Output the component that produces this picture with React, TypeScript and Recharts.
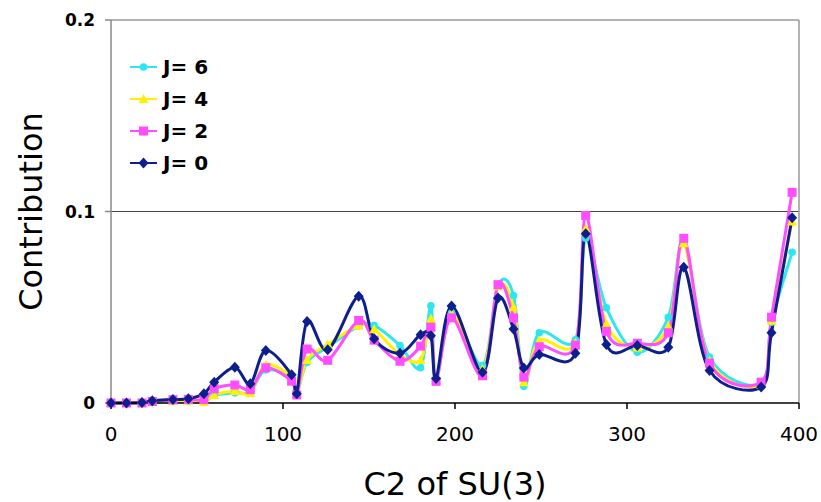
import {
  Legend,
  Line,
  LineChart,
  ReferenceLine,
  XAxis,
  YAxis,
} from "recharts";

// C2 eigenvalues of the SU(3) irreps that appear in the plot
const c2 = [
  0, 9, 18, 24, 36, 45, 54, 60, 72, 81, 90, 105, 108, 114, 126, 144, 153, 168,
  180, 186, 189, 198, 216, 225, 234, 240, 249, 270, 276, 288, 306, 324, 333,
  348, 378, 384, 396,
];

const j0 = [
  0, 0, 0.0002, 0.0012, 0.0018, 0.0022, 0.0048, 0.0109, 0.0187, 0.01, 0.0274,
  0.0147, 0.0048, 0.0426, 0.0278, 0.0558, 0.0336, 0.026, 0.0357, 0.0351,
  0.0128, 0.0507, 0.016, 0.0548, 0.0386, 0.0183, 0.0253, 0.026, 0.0884, 0.0305,
  0.03, 0.0291, 0.0709, 0.017, 0.0083, 0.0367, 0.0967,
];

const j2 = [
  0, 0, 0, 0.0008, 0.0017, 0.0019, 0.0018, 0.0074, 0.0094, 0.007, 0.0184,
  0.0114, 0.0042, 0.0282, 0.0223, 0.0431, 0.0328, 0.0218, 0.0297, 0.0396,
  0.0113, 0.0445, 0.0142, 0.0618, 0.0445, 0.0135, 0.0294, 0.0302, 0.0979,
  0.0374, 0.0312, 0.0367, 0.086, 0.0208, 0.0109, 0.0448, 0.11,
];

const j4 = [
  0, 0, 0, 0.0004, 0.001, 0.0012, 0.0005, 0.0042, 0.0063, 0.0052, 0.02, 0.0135,
  0.005, 0.0225, 0.0305, 0.0405, 0.0385, 0.0253, 0.0225, 0.044, 0.012, 0.0466,
  0.0178, 0.061, 0.05, 0.0109, 0.0326, 0.0315, 0.091, 0.0413, 0.029, 0.04,
  0.0834, 0.022, 0.0095, 0.043, 0.0948,
];

const j6 = [
  0, 0, 0, 0.0003, 0.0008, 0.0008, 0.0003, 0.004, 0.0053, 0.006, 0.0173, 0.013,
  0.005, 0.0213, 0.0292, 0.0402, 0.0405, 0.03, 0.0184, 0.0508, 0.012, 0.047,
  0.0196, 0.0614, 0.0561, 0.0087, 0.0367, 0.033, 0.086, 0.0497, 0.0265, 0.0448,
  0.084, 0.024, 0.01, 0.0422, 0.0787,
];

const xTicks = [0, 100, 200, 300, 400];
const yTicks = [0, 0.1, 0.2];

const FONT = "'DejaVu Sans', Verdana, sans-serif";

type Marker = "circle" | "triangle" | "square" | "diamond";

const SERIES: { key: string; name: string; color: string; marker: Marker }[] = [
  { key: "j6", name: "J= 6", color: "#2ee6f0", marker: "circle" },
  { key: "j4", name: "J= 4", color: "#fff200", marker: "triangle" },
  { key: "j2", name: "J= 2", color: "#ff4dff", marker: "square" },
  { key: "j0", name: "J= 0", color: "#0c1f8c", marker: "diamond" },
];

const data = c2.map((x, i) => ({ c2: x, j0: j0[i], j2: j2[i], j4: j4[i], j6: j6[i] }));

// Excel-style smoothed line: Catmull-Rom through every point
function excelSmooth(context: any) {
  let pts: [number, number][] = [];
  return {
    areaStart() {},
    areaEnd() {},
    lineStart() {
      pts = [];
    },
    point(x: number, y: number) {
      pts.push([+x, +y]);
    },
    lineEnd() {
      const n = pts.length;
      if (!n) return;
      context.moveTo(pts[0][0], pts[0][1]);
      for (let i = 0; i < n - 1; i++) {
        const p0 = pts[i - 1] || pts[i];
        const p1 = pts[i];
        const p2 = pts[i + 1];
        const p3 = pts[i + 2] || p2;
        context.bezierCurveTo(
          p1[0] + (p2[0] - p0[0]) / 6,
          p1[1] + (p2[1] - p0[1]) / 6,
          p2[0] - (p3[0] - p1[0]) / 6,
          p2[1] - (p3[1] - p1[1]) / 6,
          p2[0],
          p2[1],
        );
      }
    },
  };
}

function markerShape(marker: Marker, cx: number, cy: number, color: string, key?: any) {
  if (marker === "circle") return <circle key={key} cx={cx} cy={cy} r={3.8} fill={color} />;
  if (marker === "square")
    return <rect key={key} x={cx - 4.5} y={cy - 4.5} width={9} height={9} fill={color} />;
  if (marker === "triangle")
    return (
      <polygon
        key={key}
        points={`${cx},${cy - 5} ${cx + 5},${cy + 4} ${cx - 5},${cy + 4}`}
        fill={color}
      />
    );
  return (
    <polygon
      key={key}
      points={`${cx},${cy - 5.5} ${cx + 5},${cy} ${cx},${cy + 5.5} ${cx - 5},${cy}`}
      fill={color}
    />
  );
}

const makeDot = (marker: Marker, color: string) => (props: any) => {
  const { cx, cy, index } = props;
  if (cx == null || cy == null) return <g key={index} />;
  return markerShape(marker, cx, cy, color, index);
};

function LegendBox() {
  return (
    <div style={{ fontFamily: FONT, fontWeight: "bold", fontSize: 20, lineHeight: "32px" }}>
      {SERIES.map((s) => (
        <div key={s.key} style={{ display: "flex", alignItems: "center", height: 32 }}>
          <svg width={30} height={12} style={{ marginRight: 4 }}>
            <line x1={1} y1={6} x2={28} y2={6} stroke={s.color} strokeWidth={2} />
            {markerShape(s.marker, 14.5, 6, s.color)}
          </svg>
          <span style={{ color: "#000" }}>{s.name}</span>
        </div>
      ))}
    </div>
  );
}

function YTitle(props: any) {
  const { viewBox } = props;
  const x = viewBox.x + 42;
  const y = viewBox.y + viewBox.height / 2;
  return (
    <text
      x={x}
      y={y}
      transform={`rotate(-90 ${x} ${y})`}
      textAnchor="middle"
      fontFamily={FONT}
      fontSize={32}
      fill="#000"
    >
      Contribution
    </text>
  );
}

function XTitle(props: any) {
  const { viewBox } = props;
  return (
    <text
      x={viewBox.x + viewBox.width / 2}
      y={viewBox.y + 92}
      textAnchor="middle"
      fontFamily={FONT}
      fontSize={32}
      fill="#000"
    >
      C2 of SU(3)
    </text>
  );
}

export default function App() {
  return (
    <div style={{ position: "absolute", left: 0, top: 0, background: "#fff" }}>
      <LineChart
        width={821}
        height={502}
        data={data}
        margin={{ top: 20, right: 22, bottom: 0, left: 0 }}
      >
        <ReferenceLine y={0.2} stroke="#999" strokeWidth={1.5} />
        <ReferenceLine y={0.1} stroke="#444" strokeWidth={1.2} />
        <ReferenceLine x={400} stroke="#999" strokeWidth={1.5} />
        <XAxis
          dataKey="c2"
          type="number"
          domain={[0, 400]}
          ticks={xTicks}
          height={99}
          axisLine={{ stroke: "#000", strokeWidth: 1.5 }}
          tickLine={{ stroke: "#000", strokeWidth: 1.5 }}
          tickSize={6}
          tickMargin={18}
          tick={{ fontFamily: FONT, fontSize: 20, fill: "#000" }}
          label={<XTitle />}
        />
        <YAxis
          type="number"
          domain={[0, 0.2]}
          ticks={yTicks}
          width={111}
          axisLine={{ stroke: "#888", strokeWidth: 1.5 }}
          tickLine={{ stroke: "#888", strokeWidth: 1.5 }}
          tickSize={6}
          tickMargin={10}
          tickFormatter={(v: number) => (v === 0 ? "0" : String(v))}
          tick={{ fontFamily: FONT, fontSize: 17, fontWeight: "bold", fill: "#000" }}
          label={<YTitle />}
        />
        <Legend
          layout="vertical"
          align="center"
          verticalAlign="middle"
          wrapperStyle={{ top: 51, left: 129, width: "auto" }}
          content={() => <LegendBox />}
        />
        {SERIES.map((s) => (
          <Line
            key={s.key}
            dataKey={s.key}
            name={s.name}
            type={excelSmooth as any}
            stroke={s.color}
            strokeWidth={3}
            dot={makeDot(s.marker, s.color)}
            activeDot={false}
            isAnimationActive={false}
          />
        ))}
      </LineChart>
    </div>
  );
}
